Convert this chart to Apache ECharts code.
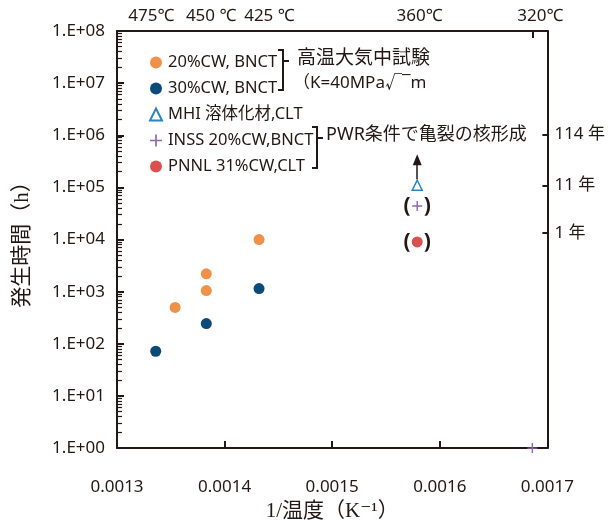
<!DOCTYPE html>
<html>
<head>
<meta charset="utf-8">
<script src="https://cdn.jsdelivr.net/npm/echarts@6/dist/echarts.min.js"></script>
<style>html,body{margin:0;padding:0;background:#fff;}#c{width:608px;height:527px;}</style>
</head>
<body>
<div id="c"></div>
<script>
// ---- data ----
const xTickMin = 0.0013, xTickMax = 0.0017, xTickStep = 0.0001;
const yLogMin = 1, yLogMax = 1e8;

const cw20InvT = [0.001354, 0.001383, 0.001383, 0.001432];
const cw20Hours = [500, 1050, 2200, 10000];
const cw30InvT = [0.001336, 0.001383, 0.001432];
const cw30Hours = [72, 245, 1150];
const mhiInvT = [0.001579];
const mhiHours = [110000];
const inssInvT = [0.001579, 0.001686];
const inssHours = [44000, 1];
const pnnlInvT = [0.001579];
const pnnlHours = [9000];

const topTempsC = [475, 450, 425, 360, 320];
const topTempLabels = ['475℃', '450 ℃', '425 ℃', '360℃', '320℃'];
const topTickTempC = [320];

const rightTickHours = [1.04e6, 1.1e5, 1.34e4];
const rightTickLabels = ['114 年', '11 年', '1 年'];

const seriesNames = ['20%CW, BNCT', '30%CW, BNCT', 'MHI 溶体化材,CLT', 'INSS 20%CW,BNCT', 'PNNL 31%CW,CLT'];

// ---- build ----
const INK = '#231815';
const SANS = "'Noto Sans','Noto Sans CJK JP',sans-serif";
const SERIF = "'Liberation Serif','DejaVu Serif','Noto Sans CJK JP',serif";
const PLUS = 'path://M4.3,0h1.4v4.3h4.3v1.4h-4.3v4.3h-1.4v-4.3h-4.3v-1.4h4.3z';
const invT = c => 1 / (c + 273.15);
const zip = (xs, ys) => xs.map((x, i) => [x, ys[i]]);
const minorTicks = [];
for (let e = 0; e < 8; e++) for (let m = 2; m <= 9; m++) minorTicks.push(m * Math.pow(10, e));

// label nudges so the hand-placed top labels sit where the reference has them
const topNudge = [-5, 5, 10, 2, 8];
const topRich = {};
topNudge.forEach((n, i) => {
  topRich['t' + i] = { fontSize: 17, color: INK, fontFamily: SANS,
    padding: n >= 0 ? [0, 0, 0, 2 * n] : [0, -2 * n, 0, 0] };
});

const parenLabel = {
  show: true, position: 'inside', formatter: '{p|(}{s|}{p|)}',
  rich: { p: { fontSize: 21, fontWeight: 'bold', color: INK, fontFamily: SANS }, s: { width: 13 } }
};

const chart = echarts.init(document.getElementById('c'), null, { renderer: 'canvas' });
chart.setOption({
  animation: false,
  backgroundColor: '#fff',
  grid: { left: 117, right: 59, top: 31, bottom: 77 },
  legend: {
    orient: 'vertical', left: 144, top: 49, itemGap: 9, itemWidth: 12, itemHeight: 12,
    selectedMode: false,
    textStyle: { fontSize: 16.5, lineHeight: 17, color: INK, fontFamily: SANS, padding: [0, 0, 0, 1] },
    data: [
      { name: seriesNames[0], icon: 'circle' },
      { name: seriesNames[1], icon: 'circle' },
      { name: seriesNames[2], icon: 'triangle' },
      { name: seriesNames[3], icon: PLUS },
      { name: seriesNames[4], icon: 'circle' }
    ]
  },
  xAxis: [
    {
      type: 'value', position: 'bottom', min: xTickMin, max: xTickMax, interval: xTickStep,
      axisLine: { show: true, lineStyle: { color: INK, width: 2 } },
      axisTick: { show: true, inside: true, length: 7, lineStyle: { color: INK, width: 2 } },
      axisLabel: { margin: 31, fontSize: 17, color: INK, fontFamily: SANS, formatter: v => v.toFixed(4) },
      splitLine: { show: false },
      name: '1/温度（K⁻¹）', nameLocation: 'middle', nameGap: 46,
      nameTextStyle: { fontSize: 21, color: INK, fontFamily: SERIF }
    },
    {
      type: 'value', position: 'top', min: xTickMin, max: xTickMax,
      axisLine: { show: true, lineStyle: { color: INK, width: 2 } },
      axisTick: { show: true, inside: true, length: 7, customValues: topTickTempC.map(invT), lineStyle: { color: INK, width: 2 } },
      axisLabel: {
        show: true, margin: 6, fontSize: 17, color: INK, fontFamily: SANS,
        customValues: topTempsC.map(invT),
        rich: topRich,
        formatter: v => {
          let best = 0, bd = Infinity;
          topTempsC.forEach((c, i) => { const d = Math.abs(invT(c) - v); if (d < bd) { bd = d; best = i; } });
          return '{t' + best + '|' + topTempLabels[best] + '}';
        }
      },
      splitLine: { show: false }
    }
  ],
  yAxis: [
    {
      type: 'log', logBase: 10, min: yLogMin, max: yLogMax, position: 'left',
      axisLine: { show: true, lineStyle: { color: INK, width: 2 } },
      axisTick: { show: true, inside: true, length: 7, lineStyle: { color: INK, width: 2 } },
      axisLabel: { margin: 12, fontSize: 17, color: INK, fontFamily: SANS,
        formatter: v => { const e = Math.round(Math.log10(v)); return '1.E+' + (e < 10 ? '0' : '') + e; } },
      splitLine: { show: false },
      name: '発生時間（h）', nameLocation: 'middle', nameGap: 84, nameRotate: 90,
      nameTextStyle: { fontSize: 21, color: INK, fontFamily: SERIF }
    },
    {
      type: 'log', logBase: 10, min: yLogMin, max: yLogMax, position: 'left',
      axisLine: { show: false },
      axisTick: { show: true, inside: true, length: 5, customValues: minorTicks, lineStyle: { color: INK, width: 1.2 } },
      axisLabel: { show: false },
      splitLine: { show: false }
    },
    {
      type: 'log', logBase: 10, min: yLogMin, max: yLogMax, position: 'right',
      axisLine: { show: true, lineStyle: { color: INK, width: 2 } },
      axisTick: { show: true, inside: true, length: 5, customValues: rightTickHours, lineStyle: { color: INK, width: 2 } },
      axisLabel: {
        show: true, margin: 7, fontSize: 17, color: INK, fontFamily: SANS,
        customValues: rightTickHours,
        formatter: v => {
          let best = 0, bd = Infinity;
          rightTickHours.forEach((h, i) => { const d = Math.abs(Math.log10(h) - Math.log10(v)); if (d < bd) { bd = d; best = i; } });
          return rightTickLabels[best];
        }
      },
      splitLine: { show: false }
    }
  ],
  series: [
    { name: seriesNames[0], type: 'scatter', symbol: 'circle', symbolSize: 11, clip: false,
      itemStyle: { color: '#F0914A', opacity: 1 }, data: zip(cw20InvT, cw20Hours) },
    { name: seriesNames[1], type: 'scatter', symbol: 'circle', symbolSize: 11, clip: false,
      itemStyle: { color: '#0B4A79', opacity: 1 }, data: zip(cw30InvT, cw30Hours) },
    { name: seriesNames[2], type: 'scatter', symbol: 'triangle', symbolSize: 10, clip: false,
      itemStyle: { color: '#fff', borderColor: '#2A84C6', borderWidth: 1.5, opacity: 1 }, data: zip(mhiInvT, mhiHours),
      markLine: {
        silent: true, symbol: ['none', 'triangle'], symbolSize: [9, 11], label: { show: false },
        lineStyle: { color: INK, width: 1.5, type: 'solid' },
        data: [[{ coord: [mhiInvT[0], mhiHours[0] * 1.3] }, { coord: [mhiInvT[0], mhiHours[0] * 3.1] }]]
      } },
    { name: seriesNames[3], type: 'scatter', symbol: PLUS, symbolSize: 10, clip: false,
      itemStyle: { color: '#8F66B0', opacity: 1 },
      data: zip(inssInvT, inssHours).map((p, i) => i === 0 ? { value: p, label: parenLabel } : { value: p }) },
    { name: seriesNames[4], type: 'scatter', symbol: 'circle', symbolSize: 11, clip: false,
      itemStyle: { color: '#D9514E', opacity: 1 },
      data: zip(pnnlInvT, pnnlHours).map(p => ({ value: p, label: parenLabel })) }
  ],
  graphic: [
    // bracket 1
    { type: 'polyline', shape: { points: [[278, 50], [283, 50], [283, 90], [278, 90]] }, style: { stroke: INK, lineWidth: 2, fill: null } },
    { type: 'line', shape: { x1: 283, y1: 61, x2: 289, y2: 61 }, style: { stroke: INK, lineWidth: 2 } },
    { type: 'text', left: 297, top: 49, style: { text: '高温大気中試験', fontSize: 19, fill: INK, fontFamily: SANS } },
    { type: 'text', left: 293, top: 75, style: { text: '（K=40MPa√‾m', fontSize: 17, fill: INK, fontFamily: SANS } },
    // bracket 2
    { type: 'polyline', shape: { points: [[312, 127], [317, 127], [317, 168], [312, 168]] }, style: { stroke: INK, lineWidth: 2, fill: null } },
    { type: 'line', shape: { x1: 317, y1: 138, x2: 323, y2: 138 }, style: { stroke: INK, lineWidth: 2 } },
    { type: 'text', left: 326, top: 126, style: { text: 'PWR条件で亀裂の核形成', fontSize: 18, fill: INK, fontFamily: SANS } }
  ]
});
</script>
</body>
</html>
